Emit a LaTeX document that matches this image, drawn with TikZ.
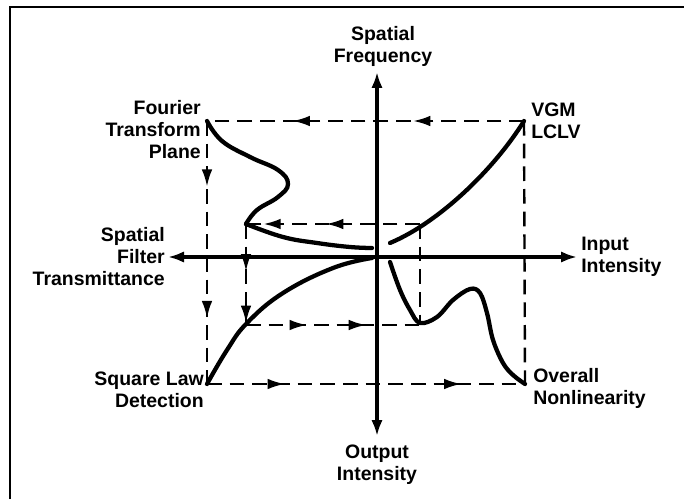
\documentclass[tikz,border=0pt]{standalone}
\usepackage{fontspec}
\setmainfont{Liberation Sans}
\usetikzlibrary{arrows.meta,decorations.markings}
\begin{document}
\begin{tikzpicture}[x=0.75pt,y=-0.75pt,
  lbl/.style={font=\fontsize{14.6}{16.5}\selectfont\bfseries, inner sep=0pt},
  dtip/.tip={Latex[length=13pt,width=8pt]},
  atip/.tip={Latex[length=12pt,width=8.5pt]},
  axis/.style={line width=2.3pt,{atip}-{atip}},
  dsh/.style={line width=1.8pt, dash pattern=on 11pt off 6pt},
  crv/.style={line width=3.2pt, line cap=round, line join=round},
  marks/.style={postaction={decorate,decoration={markings,mark=at position #1 with {\arrow{dtip}}}}}
]
\useasboundingbox (0,0) rectangle (684,499);
% frame
\draw[line width=1.9pt] (10,499) -- (10,7) -- (684,7);

% corner points
\coordinate (FT) at (207,121);
\coordinate (VG) at (524,121);
\coordinate (SQ) at (207,384);
\coordinate (OV) at (525,384);
\coordinate (UA) at (420,224);
\coordinate (UB) at (246,224);
\coordinate (LA) at (246,325);
\coordinate (LB) at (420,325);

% dashed construction lines
\draw[dsh, marks=0.35, marks=0.73] (VG) -- (FT);
\draw[dsh] (VG) -- (OV);
\draw[dsh, marks=0.25, marks=0.75] (FT) -- (SQ);
\draw[dsh, marks=0.245, marks=0.80] (SQ) -- (OV);
\draw[dsh, marks=0.54, marks=0.90] (UA) -- (UB);
\draw[dsh] (UA) -- (LB);
\draw[dsh, marks=0.47, marks=0.98] (UB) -- (LA);
\draw[dsh, marks=0.35, marks=0.69] (LA) -- (LB);

% axes
\coordinate (O) at (377,257);
\coordinate (Ytop) at (377,72);
\coordinate (Ybot) at (377,436);
\coordinate (Xl) at (168,257);
\coordinate (Xr) at (577,257);
\draw[axis] (Ybot) -- (Ytop);
\draw[axis] (Xl) -- (Xr);

% curves
\draw[crv] (390,243) .. controls (440,222) and (495,168) .. (VG);
\draw[crv] plot[smooth, tension=0.7] coordinates {(FT) (222,141) (250,157) (278,170) (288,184) (278,197) (257,210) (UB)};
\draw[crv] plot[smooth, tension=0.7] coordinates {(UB) (283,237) (317,243) (350,247) (372,248)};
\draw[crv] plot[smooth, tension=0.7] coordinates {(SQ) (227,350) (247,323) (283,293) (333,268) (372,258)};
\draw[crv] plot[smooth, tension=0.6] coordinates {(390,262) (400,290) (410,310) (420,323) (437,317) (453,300) (470,289) (480,293) (487,313) (493,340) (503,363) (513,375) (OV)};

% labels
\node[lbl, align=center] (sf) at (383,46) {Spatial\\Frequency};
\node[lbl, align=right, anchor=east] (ftp) at (201,130) {Fourier\\Transform\\Plane};
\node[lbl, align=left, anchor=west] (vgm) at (531,121) {VGM\\LCLV};
\node[lbl, align=right, anchor=east] (sft) at (165,257) {Spatial\\Filter\\Transmittance};
\node[lbl, align=left, anchor=west] (ii) at (581,257) {Input\\Intensity};
\node[lbl, align=right, anchor=east] (sld) at (204,390) {Square Law\\Detection};
\node[lbl, align=left, anchor=west] (on) at (533,388) {Overall\\Nonlinearity};
\node[lbl, align=center] (oi) at (377,465) {Output\\Intensity};
\end{tikzpicture}
\end{document}
